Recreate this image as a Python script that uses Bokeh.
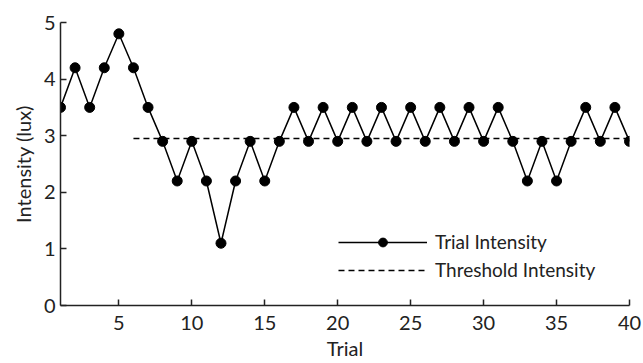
from bokeh.plotting import figure
from bokeh.models import Range1d, FixedTicker, Legend, LegendItem
from bokeh.embed import file_html
from bokeh.resources import INLINE

trials = list(range(1, 41))
intensity = [3.5, 4.2, 3.5, 4.2, 4.8, 4.2, 3.5, 2.9, 2.2, 2.9,
             2.2, 1.1, 2.2, 2.9, 2.2, 2.9, 3.5, 2.9, 3.5, 2.9,
             3.5, 2.9, 3.5, 2.9, 3.5, 2.9, 3.5, 2.9, 3.5, 2.9,
             3.5, 2.9, 2.2, 2.9, 2.2, 2.9, 3.5, 2.9, 3.5, 2.9]
threshold_x = [6, 40]
threshold_y = [2.95, 2.95]
x_ticks = [5, 10, 15, 20, 25, 30, 35, 40]
y_ticks = [0, 1, 2, 3, 4, 5]

FONT = "Lato"
INK = "#222222"

p = figure(width=643, height=363, output_backend="svg", toolbar_location=None,
           x_range=Range1d(1, 40), y_range=Range1d(0, 5),
           min_border_left=60, min_border_right=14, min_border_top=22,
           min_border_bottom=58)
p.outline_line_color = None
p.xgrid.visible = False
p.ygrid.visible = False

line_r = p.line(trials, intensity, line_color="black", line_width=1.5)
dot_r = p.scatter(trials, intensity, size=10, fill_color="black", line_color="black")
thr_r = p.line(threshold_x, threshold_y, line_color="black", line_width=1.5,
               line_dash="6 4")

for ax in (p.xaxis[0], p.yaxis[0]):
    ax.major_tick_in = 6
    ax.major_tick_out = 0
    ax.minor_tick_in = 0
    ax.minor_tick_out = 0
    ax.axis_line_color = INK
    ax.axis_line_width = 1.5
    ax.major_tick_line_color = INK
    ax.major_tick_line_width = 1.5
    ax.major_label_text_font = FONT
    ax.major_label_text_font_size = "20px"
    ax.major_label_text_color = INK
    ax.axis_label_text_font = FONT
    ax.axis_label_text_font_size = "20px"
    ax.axis_label_text_font_style = "normal"
    ax.axis_label_text_color = INK

p.xaxis[0].ticker = FixedTicker(ticks=x_ticks)
p.yaxis[0].ticker = FixedTicker(ticks=y_ticks)
p.xaxis[0].axis_label = "Trial"
p.yaxis[0].axis_label = "Intensity (lux)"
p.xaxis[0].major_label_standoff = 10
p.xaxis[0].axis_label_standoff = 3
p.yaxis[0].major_label_standoff = 5
p.yaxis[0].axis_label_standoff = 6

legend = Legend(items=[
    LegendItem(label="Trial Intensity", renderers=[line_r, dot_r]),
    LegendItem(label="Threshold Intensity", renderers=[thr_r]),
], location=(278, 24))
legend.border_line_color = None
legend.background_fill_alpha = 0
legend.padding = 0
legend.margin = 0
legend.spacing = 5
legend.glyph_width = 89
legend.glyph_height = 22
legend.label_height = 22
legend.label_standoff = 8
legend.label_text_font = FONT
legend.label_text_font_size = "19px"
legend.label_text_color = INK
p.add_layout(legend, "center")

open("out.html", "w").write(file_html(p, INLINE))
